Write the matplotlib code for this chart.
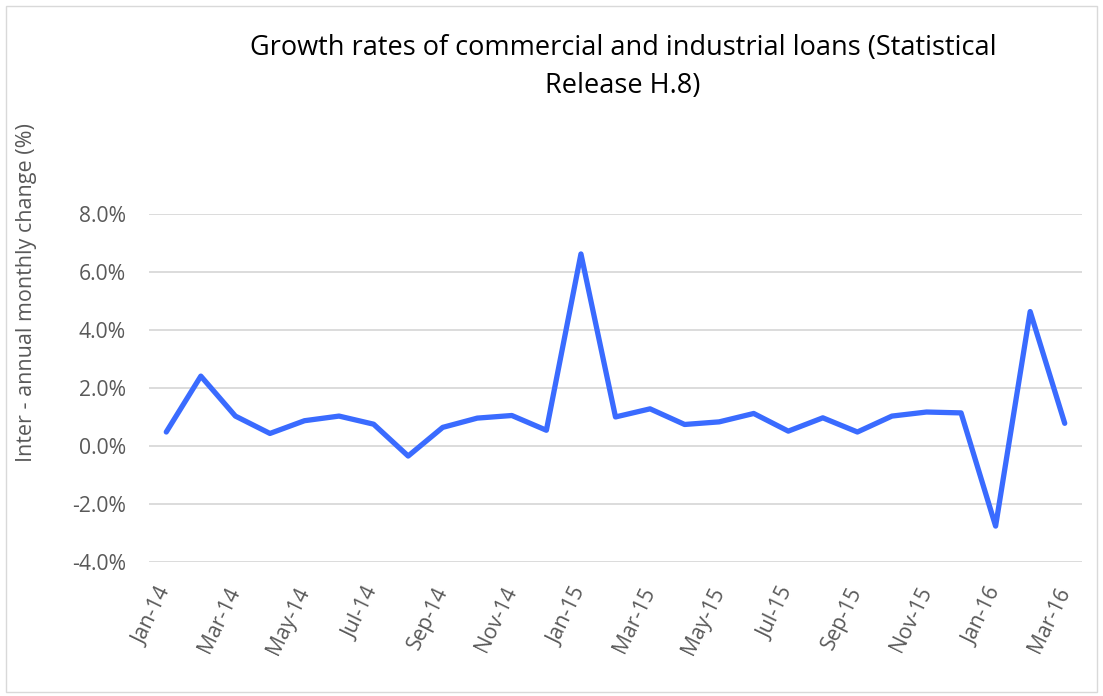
import matplotlib.pyplot as plt
from matplotlib.patches import Rectangle
from matplotlib.ticker import FuncFormatter

meses = ['Jan-14', 'Feb-14', 'Mar-14', 'Apr-14', 'May-14', 'Jun-14', 'Jul-14', 'Aug-14', 'Sep-14',
         'Oct-14', 'Nov-14', 'Dec-14', 'Jan-15', 'Feb-15', 'Mar-15', 'Apr-15', 'May-15', 'Jun-15',
         'Jul-15', 'Aug-15', 'Sep-15', 'Oct-15', 'Nov-15', 'Dec-15', 'Jan-16', 'Feb-16', 'Mar-16']
crescimento = [0.48, 2.41, 1.03, 0.43, 0.87, 1.03, 0.75, -0.35, 0.64,
               0.96, 1.05, 0.54, 6.63, 1.00, 1.28, 0.74, 0.83, 1.12,
               0.51, 0.97, 0.48, 1.03, 1.17, 1.14, -2.77, 4.64, 0.78]
yticks = [-4, -2, 0, 2, 4, 6, 8]

plt.rcParams['font.family'] = ['Open Sans', 'DejaVu Sans']
cinza = '#595959'

fig = plt.figure(figsize=(11.03, 6.96), dpi=100)
ax = fig.add_axes([149/1103, 1 - 561.7/696, (1082 - 149)/1103, (561.7 - 214.3)/696])

x = list(range(len(meses)))
ax.plot(x, crescimento, color='#3A6BFF', linewidth=3.8, solid_joinstyle='round', solid_capstyle='round', zorder=3)

ax.set_xlim(-0.5, len(meses) - 0.5)
ax.set_ylim(-4, 8)
ax.set_yticks(yticks)
ax.yaxis.set_major_formatter(FuncFormatter(lambda v, p: '%.1f%%' % v))
ax.grid(axis='y', color='#D9D9D9', linewidth=1.3)
ax.set_axisbelow(True)
for s in ax.spines.values():
    s.set_visible(False)

ax.set_xticks(x[::2])
ax.set_xticklabels(meses[::2], rotation=64, ha='right', va='center', rotation_mode='anchor')
ax.tick_params(axis='both', length=0, labelsize=15.2, labelcolor=cinza)
ax.tick_params(axis='x', pad=19)
ax.tick_params(axis='y', pad=16.5)

fig.text(27/1103, 1 - 293/696, 'Inter - annual monthly change (%)', rotation=90,
         ha='center', va='center', fontsize=15.5, color=cinza)
fig.text(623/1103, 1 - 67/696, 'Growth rates of commercial and industrial loans (Statistical\nRelease H.8)',
         ha='center', va='center', fontsize=19.5, color='black', linespacing=1.5)

fig.patches.append(Rectangle((6/1103, 4/696), 1091/1103, 686/696, transform=fig.transFigure,
                             fill=False, edgecolor='#D9D9D9', linewidth=1))

fig.savefig('out.png', dpi=100)
